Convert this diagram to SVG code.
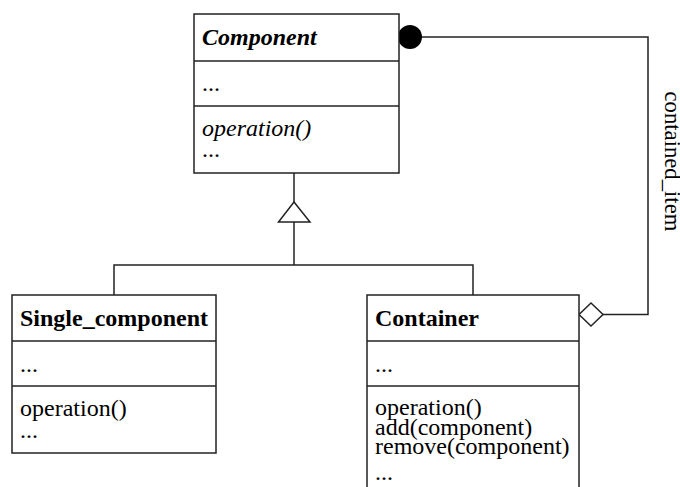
<svg xmlns="http://www.w3.org/2000/svg" width="680" height="487" viewBox="0 0 680 487">
<style>
.box{fill:#fff;stroke:#222;stroke-width:1.5}
.ln{fill:none;stroke:#222;stroke-width:1.5}
text{font-family:"Liberation Serif","Times New Roman",serif;font-size:24px;fill:#000}
.b{font-weight:bold}
.i{font-style:italic}
</style>
<rect width="680" height="487" fill="#fff"/>
<g id="connectors">
<line class="ln" x1="294" y1="173" x2="294" y2="202"/>
<polygon class="box" points="294,202 278.5,222 310,222"/>
<line class="ln" x1="294" y1="222" x2="294" y2="265"/>
<polyline class="ln" points="114,295 114,265 473,265 473,295"/>
<polyline class="ln" points="422,37 648,37 648,314.5 603,314.5"/>
<circle cx="410" cy="37" r="12" fill="#000"/>
<polygon class="box" points="579,314.5 591,303 603,314.5 591,326"/>
<text transform="translate(665,91.5) rotate(90)" style="font-size:22.7px">contained_item</text>
</g>
<g id="component">
<rect class="box" x="194" y="14" width="205" height="159"/>
<line class="ln" x1="194" y1="61" x2="399" y2="61"/>
<line class="ln" x1="194" y1="106" x2="399" y2="106"/>
<text class="b i" x="202" y="45">Component</text>
<text x="202" y="91">...</text>
<text class="i" x="202" y="136">operation()</text>
<text x="202" y="157">...</text>
</g>
<g id="single_component">
<rect class="box" x="12" y="295" width="204" height="158"/>
<line class="ln" x1="12" y1="341" x2="216" y2="341"/>
<line class="ln" x1="12" y1="386" x2="216" y2="386"/>
<text class="b" x="20" y="326">Single_component</text>
<text x="20" y="371.5">...</text>
<text x="20" y="416">operation()</text>
<text x="20" y="438">...</text>
</g>
<g id="container">
<rect class="box" x="367" y="295" width="212" height="210"/>
<line class="ln" x1="367" y1="341" x2="579" y2="341"/>
<line class="ln" x1="367" y1="386" x2="579" y2="386"/>
<text class="b" x="375" y="326">Container</text>
<text x="375" y="371.5">...</text>
<text x="375" y="415">operation()</text>
<text x="375" y="434.5">add(component)</text>
<text x="375" y="454">remove(component)</text>
<text x="375" y="480">...</text>
</g>
</svg>
